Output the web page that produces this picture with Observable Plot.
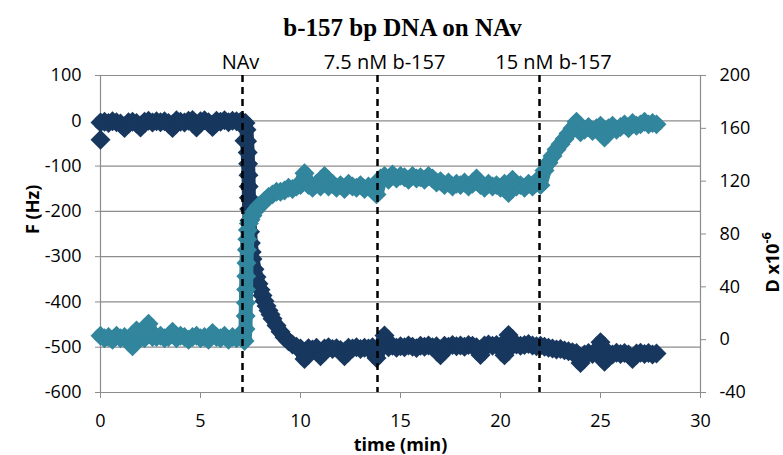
<!DOCTYPE html>
<html><head><meta charset="utf-8">
<script src="https://cdn.jsdelivr.net/npm/d3@7"></script>
<script src="https://cdn.jsdelivr.net/npm/@observablehq/plot@0.6"></script>
<style>body{margin:0;background:#fff;}</style>
</head><body><div id="chart"></div>
<script>
// ---- data ----
const title = "b-157 bp DNA on NAv";
const xTicks = [0, 5, 10, 15, 20, 25, 30];
const fTicks = [-600, -500, -400, -300, -200, -100, 0, 100];
const dTicks = [-40, 0, 40, 80, 120, 160, 200];

const eventTimes = [7.1, 13.85, 21.95];
const eventLabels = ["NAv", "7.5 nM b-157", "15 nM b-157"];
const eventLabelTimes = [7.0, 14.2, 22.65];

// shared sample times of the flat stretches (min)
const tBase = [0.0,0.2,0.4,0.6,0.8,1.0,1.2,1.4,1.6,1.8,2.0,2.2,2.4,2.6,2.8,3.0,3.2,3.4,3.6,3.8,
  4.0,4.2,4.4,4.6,4.8,5.0,5.2,5.4,5.6,5.8,6.0,6.2,6.4,6.6,6.8,7.0];
const tLate = [10.2,10.4,10.6,10.8,11.0,11.2,11.4,11.6,11.8,12.0,
  12.2,12.4,12.6,12.8,13.0,13.2,13.4,13.6,13.8,14.0,
  14.2,14.4,14.6,14.8,15.0,15.2,15.4,15.6,15.8,16.0,
  16.2,16.4,16.6,16.8,17.0,17.2,17.4,17.6,17.8,18.0,
  18.2,18.4,18.6,18.8,19.0,19.2,19.4,19.6,19.8,20.0,
  20.2,20.4,20.6,20.8,21.0,21.2,21.4,21.6,21.8,22.0,
  22.2,22.4,22.6,22.8,23.0,23.2,23.4,23.6,23.8,24.0,
  24.2,24.4,24.6,24.8,25.0,25.2,25.4,25.6,25.8,26.0,
  26.2,26.4,26.6,26.8,27.0,27.2,27.4,27.6,27.8];

// F (Hz)
const fBase = [-4,-2,-5,-1,-3,-6,-16,-3,-2,-5,-15,-2,0,-4,-1,-3,-1,-5,-16,1,
  -2,-4,0,2,-15,-1,1,-3,-14,0,-2,1,-3,0,-1,-2];
const fExtraT = [0.0, 7.1, 7.2];
const fExtra = [-42, -2, -44];
const fDropT = [7.25,7.3,7.33,7.36,7.38,7.4,7.41,7.42,7.43,7.45,7.48,7.52,7.56,7.6,7.7,7.8,7.9,8.0,
  8.1,8.2,8.3,8.4,8.5,8.6,8.8,9.0,9.2,9.4,9.6,9.8,10.0];
const fDrop = [-5,-20,-45,-70,-95,-120,-145,-170,-195,-220,-245,-270,-290,-305,-328,-345,-360,-373,
  -386,-398,-409,-419,-428,-437,-452,-466,-478,-487,-494,-499,-503];
const fLate = [-526,-502,-505,-501,-520,-503,-500,-504,-502,-506,
  -520,-501,-503,-500,-504,-501,-503,-500,-524,-499,
  -474,-500,-497,-501,-498,-500,-496,-499,-502,-497,
  -499,-496,-500,-498,-518,-497,-499,-495,-498,-496,
  -499,-495,-497,-500,-517,-496,-494,-497,-495,-498,
  -518,-473,-496,-494,-497,-495,-493,-496,-498,-497,
  -499,-501,-503,-505,-504,-507,-509,-511,-513,-535,
  -516,-513,-515,-511,-489,-532,-513,-516,-512,-515,
  -513,-516,-526,-514,-512,-515,-513,-516,-514];

// D (x10^-6)
const dBase = [3,1,2,0,3,1,2,0,-5,7,2,1,12,2,2,3,1,2,6,1,
  3,2,0,2,3,1,2,0,5,2,1,3,0,2,1,3];
const dRiseT = [7.1,7.2,7.25,7.26,7.27,7.28,7.29,7.3,7.32,7.34,7.37,7.42,7.5,7.6,7.7,7.8,7.9,8.0,
  8.2,8.4,8.6,8.8,9.0,9.2,9.4,9.6,9.8,10.0];
const dRise = [1,-1,8,18,28,38,48,58,68,76,83,88,91,94,97,99,101,102,
  105,108,110,112,112,113,115,114,116,117];
const dLate = [126,117,115,118,116,124,116,118,115,117,
  114,118,116,115,117,114,116,115,110,122,
  124,121,125,122,124,123,121,124,122,123,
  121,124,122,119,120,117,119,116,118,117,
  119,116,118,122,117,115,118,116,117,115,
  118,111,121,116,117,115,118,116,120,117,
  128,134,139,144,148,152,156,160,165,157,
  159,161,158,160,162,153,160,162,159,161,
  163,160,164,162,163,165,163,164,163];

// ---- build tables ----
const fTime = [...tBase, ...fExtraT, ...fDropT, ...tLate];
const fHz = [...fBase, ...fExtra, ...fDrop, ...fLate];
const fTrackT = [...tBase, ...fDropT, ...tLate];
const fTrack = [...fBase, ...fDrop, ...fLate];
const dTime = [...tBase, ...dRiseT, ...tLate];
const dVal = [...dBase, ...dRise, ...dLate];

const toF = d => -600 + (d + 40) * 700 / 240;
const fromF = f => (f + 600) * 240 / 700 - 40;

const fData = fTime.map((t, i) => ({t, v: fHz[i]}));
const fLine = fTrackT.map((t, i) => ({t, v: fTrack[i]}));
const dData = dTime.map((t, i) => ({t, v: dVal[i]}));
const events = eventTimes.map((t, i) => ({t, label: eventLabels[i], lt: eventLabelTimes[i]}));

const F_COLOR = "#17375E", D_COLOR = "#31859C", GRID = "#8c8c8c";

const chart = Plot.plot({
  width: 783, height: 455,
  marginTop: 75, marginBottom: 63, marginLeft: 100, marginRight: 83,
  style: {fontFamily: "'Open Sans', sans-serif", fontSize: "18px", color: "#000", background: "#fff"},
  x: {domain: [0, 30]},
  y: {domain: [-600, 100]},
  marks: [
    Plot.ruleY(fTicks, {stroke: GRID, strokeWidth: 1.2}),
    Plot.ruleX([0, 30], {stroke: GRID, strokeWidth: 1.2}),
    Plot.axisY(fTicks, {anchor: "left", tickSize: 5, tickPadding: 14, stroke: GRID, fill: "#000", tickFormat: d => String(d), label: null}),
    Plot.axisY(dTicks.map(toF), {anchor: "right", tickSize: 5, tickPadding: 14, stroke: GRID, fill: "#000", tickFormat: v => String(Math.round(fromF(v))), label: null}),
    Plot.axisX(xTicks, {anchor: "bottom", tickSize: 6, tickPadding: 16, stroke: GRID, fill: "#000", tickFormat: d => String(d), label: null}),
    Plot.line(fLine, {x: "t", y: "v", stroke: F_COLOR, strokeWidth: 14, strokeLinejoin: "round", strokeLinecap: "round"}),
    Plot.dot(fData, {x: "t", y: "v", symbol: "diamond2", r: 9, fill: F_COLOR}),
    Plot.line(dData, {x: "t", y: d => toF(d.v), stroke: D_COLOR, strokeWidth: 14, strokeLinejoin: "round", strokeLinecap: "round"}),
    Plot.dot(dData, {x: "t", y: d => toF(d.v), symbol: "diamond2", r: 9, fill: D_COLOR}),
    Plot.ruleX(events, {x: "t", stroke: "#000", strokeWidth: 2.5, strokeDasharray: "7,5"}),
    Plot.text(events, {x: "lt", text: "label", frameAnchor: "top", dy: -7, lineAnchor: "bottom", fontSize: 20, fill: "#000"}),
    Plot.text([title], {text: d => d, frameAnchor: "top", dx: 2, dy: -40, lineAnchor: "bottom", fontFamily: "'Liberation Serif', serif", fontWeight: "bold", fontSize: 25, fill: "#000"}),
    Plot.text(["time (min)"], {text: d => d, frameAnchor: "bottom", dy: 58, lineAnchor: "bottom", fontWeight: "bold", fontSize: 18, fill: "#000"}),
    Plot.text(["F (Hz)"], {text: d => d, frameAnchor: "left", dx: -62, rotate: -90, lineAnchor: "bottom", fontWeight: "bold", fontSize: 18, fill: "#000"}),
    Plot.text(["D x10-6"], {text: d => d, frameAnchor: "right", dx: 78, dy: -2, rotate: -90, lineAnchor: "bottom", fontWeight: "bold", fontSize: 18, fill: "#000"})
  ]
});
document.getElementById("chart").appendChild(chart);

// superscript for the right-axis title
d3.select(chart).selectAll("text").filter(function () { return this.textContent === "D x10-6"; })
  .each(function () {
    const el = d3.select(this);
    el.text("D x10");
    el.append("tspan").attr("dy", "-0.55em").attr("font-size", "0.72em").text("-6");
  });
</script>
</body></html>
